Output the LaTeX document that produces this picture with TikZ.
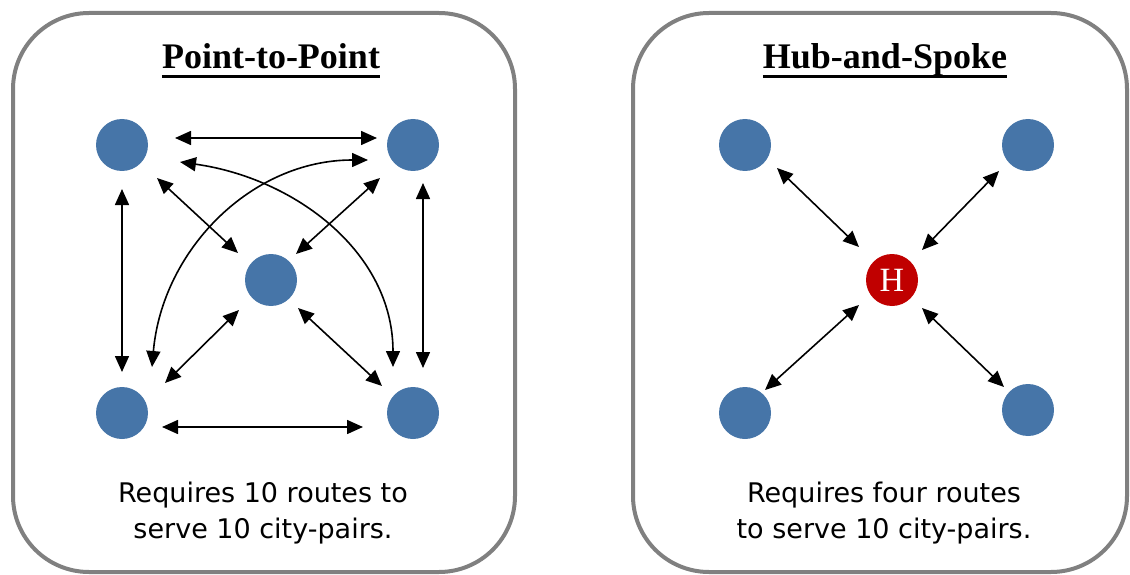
\documentclass[tikz,border=0pt]{standalone}
\usepackage{fontspec}
\newfontfamily\titlefont{Liberation Serif}
\newfontfamily\bodyfont{DejaVu Sans}
\usetikzlibrary{arrows.meta}
\definecolor{cityblue}{RGB}{70,117,168}
\definecolor{hubred}{RGB}{192,0,0}
\definecolor{framegray}{RGB}{128,128,128}

\begin{document}
\begin{tikzpicture}[x=1pt,y=1pt,
    panel/.style={draw=framegray,line width=4pt,rounded corners=76pt},
    city/.style={circle,fill=cityblue,minimum size=52pt,inner sep=0pt},
    hub/.style={circle,fill=hubred,minimum size=52pt,inner sep=0pt,text=white,font=\titlefont\fontsize{34}{34}\selectfont},
    tip/.tip={Triangle[length=16pt,width=14pt]},
    route/.style={line width=1.6pt,tip-tip},
    heading/.style={anchor=base,inner sep=0pt,font=\titlefont\bfseries\fontsize{36}{36}\selectfont},
    caption/.style={align=center,inner sep=0pt,font=\bodyfont\fontsize{27}{36}\selectfont}]
    \useasboundingbox (0,0) rectangle (1130,-575);

    % frames
    \draw[panel] (13,-13) rectangle (515,-572);
    \draw[panel] (633,-13) rectangle (1127,-572);

    % titles
    \node[heading] (ptp) at (271,-69) {Point-to-Point};
    \draw[line width=3pt] ([yshift=-8pt]ptp.base west) -- ([yshift=-8pt]ptp.base east);
    \node[heading] (hs) at (885,-69) {Hub-and-Spoke};
    \draw[line width=3pt] ([yshift=-8pt]hs.base west) -- ([yshift=-8pt]hs.base east);

    % point-to-point
    \node[city] (TL) at (122,-145) {};
    \node[city] (TR) at (413,-145) {};
    \node[city] (C) at (271,-280) {};
    \node[city] (BL) at (122,-413) {};
    \node[city] (BR) at (413,-413) {};

    \draw[route] ([shift={(53,7)}]TL.center) -- ([shift={(-36,7)}]TR.center);
    \draw[route] ([shift={(40,-14)}]BL.center) -- ([shift={(-50,-14)}]BR.center);
    \draw[route] ([shift={(0,-44)}]TL.center) -- ([shift={(0,41)}]BL.center);
    \draw[route] ([shift={(10,-38)}]TR.center) -- ([shift={(10,45)}]BR.center);
    \draw[route] ([shift={(35,-33)}]TL.center) -- ([shift={(-33,27)}]C.center);
    \draw[route] ([shift={(-33,-33)}]TR.center) -- ([shift={(25,26)}]C.center);
    \draw[route] ([shift={(43,30)}]BL.center) -- ([shift={(-32,-30)}]C.center);
    \draw[route] ([shift={(-31,27)}]BR.center) -- ([shift={(27,-28)}]C.center);
    \draw[route] ([shift={(58,-17)}]TL.center) to[out=-8,in=90] ([shift={(-20,46)}]BR.center);
    \draw[route] ([shift={(30,46)}]BL.center) to[out=85,in=180] ([shift={(-45,-15)}]TR.center);

    \node[caption] (ptptext) at (263,-513) {Requires 10 routes to\\serve 10 city-pairs.};

    % hub-and-spoke
    \node[city] (TL2) at (745,-145) {};
    \node[city] (TR2) at (1028,-145) {};
    \node[hub] (H) at (892,-280) {H};
    \node[city] (BL2) at (745,-413) {};
    \node[city] (BR2) at (1028,-410) {};

    \draw[route] ([shift={(32,-23)}]TL2.center) -- ([shift={(-33,33)}]H.center);
    \draw[route] ([shift={(-29,-26)}]TR2.center) -- ([shift={(30,30)}]H.center);
    \draw[route] ([shift={(20,23)}]BL2.center) -- ([shift={(-33,-25)}]H.center);
    \draw[route] ([shift={(-24,23)}]BR2.center) -- ([shift={(30,-28)}]H.center);

    \node[caption] (hstext) at (884,-513) {Requires four routes\\to serve 10 city-pairs.};
\end{tikzpicture}
\end{document}
